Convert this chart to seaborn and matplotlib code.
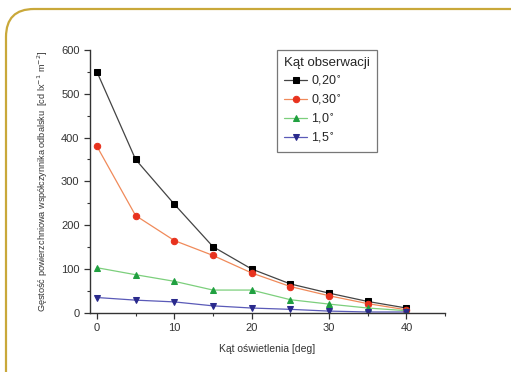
import matplotlib
matplotlib.use("Agg")
import matplotlib.pyplot as plt
import seaborn as sns
import pandas as pd
from matplotlib.patches import FancyBboxPatch
from matplotlib.ticker import MultipleLocator

angles = [0, 5, 10, 15, 20, 25, 30, 35, 40]
s020 = [550, 350, 248, 151, 100, 66, 45, 26, 11]
s030 = [380, 222, 165, 131, 91, 60, 39, 21, 7]
s10 = [103, 87, 72, 52, 52, 30, 20, 11, 5]
s15 = [35, 29, 25, 16, 11, 8, 4, 2, 2]
series_labels = ["0,20$^{\\circ}$", "0,30$^{\\circ}$", "1,0$^{\\circ}$", "1,5$^{\\circ}$"]

rows = []
for lab, vals in zip(series_labels, [s020, s030, s10, s15]):
    for a, v in zip(angles, vals):
        rows.append({"angle": a, "value": v, "series": lab})
df = pd.DataFrame(rows)

sns.set_style("ticks")
plt.rcParams['font.family'] = ['Liberation Sans', 'DejaVu Sans']

fig = plt.figure(figsize=(5.11, 3.72), dpi=100)
ax = fig.add_axes([0.176, 0.159, 0.695, 0.707])

line_colors = ["#444444", "#f08a5a", "#7ccf7c", "#5a5ab8"]
marker_colors = ["#000000", "#e8321e", "#20a040", "#2a2a8c"]
markers = ["s", "o", "^", "v"]

for lab, lc, mc, mk in zip(series_labels, line_colors, marker_colors, markers):
    sub = df[df["series"] == lab]
    sns.lineplot(data=sub, x="angle", y="value", ax=ax, color=lc, linewidth=0.9,
                 marker=mk, markersize=4.6, markerfacecolor=mc, markeredgecolor=mc,
                 label=lab)

ax.set_xlim(-0.9, 45)
ax.set_ylim(0, 600)
ax.xaxis.set_major_locator(MultipleLocator(10))
ax.xaxis.set_minor_locator(MultipleLocator(5))
ax.yaxis.set_major_locator(MultipleLocator(100))
ax.yaxis.set_minor_locator(MultipleLocator(50))
sns.despine(ax=ax)
for sp in ["left", "bottom"]:
    ax.spines[sp].set_color("#333333")
    ax.spines[sp].set_linewidth(1.0)
ax.tick_params(axis="both", which="major", length=4, width=0.9, color="#333333",
               labelsize=8, labelcolor="#333333", direction="out")
ax.tick_params(axis="both", which="minor", length=2.5, width=0.8, color="#333333", direction="out")

ax.set_xlabel("Kąt oświetlenia [deg]", fontsize=7.5, color="#333333", labelpad=8)
ax.set_ylabel("Gęstość powierzchniowa współczynnika odbalsku  [cd lx$^{-1}$ m$^{-2}$]",
              fontsize=6.6, color="#333333", labelpad=8)

leg = ax.legend(title="Kąt obserwacji", loc="upper left", bbox_to_anchor=(0.528, 1.0),
                fontsize=9, title_fontsize=9.5, frameon=True, fancybox=False,
                handlelength=1.8, handletextpad=0.3, borderpad=0.55, labelspacing=0.4,
                borderaxespad=0.0)
leg.get_frame().set_edgecolor("#555555")
leg.get_frame().set_linewidth(0.9)
leg._legend_box.align = "left"

border = FancyBboxPatch((6, -40), 540, 403, boxstyle="round,pad=0,rounding_size=28",
                        transform=None, facecolor="none", edgecolor="#c9a83a",
                        linewidth=1.6, clip_on=False)
fig.patches.append(border)

fig.savefig("out.png", dpi=100)
